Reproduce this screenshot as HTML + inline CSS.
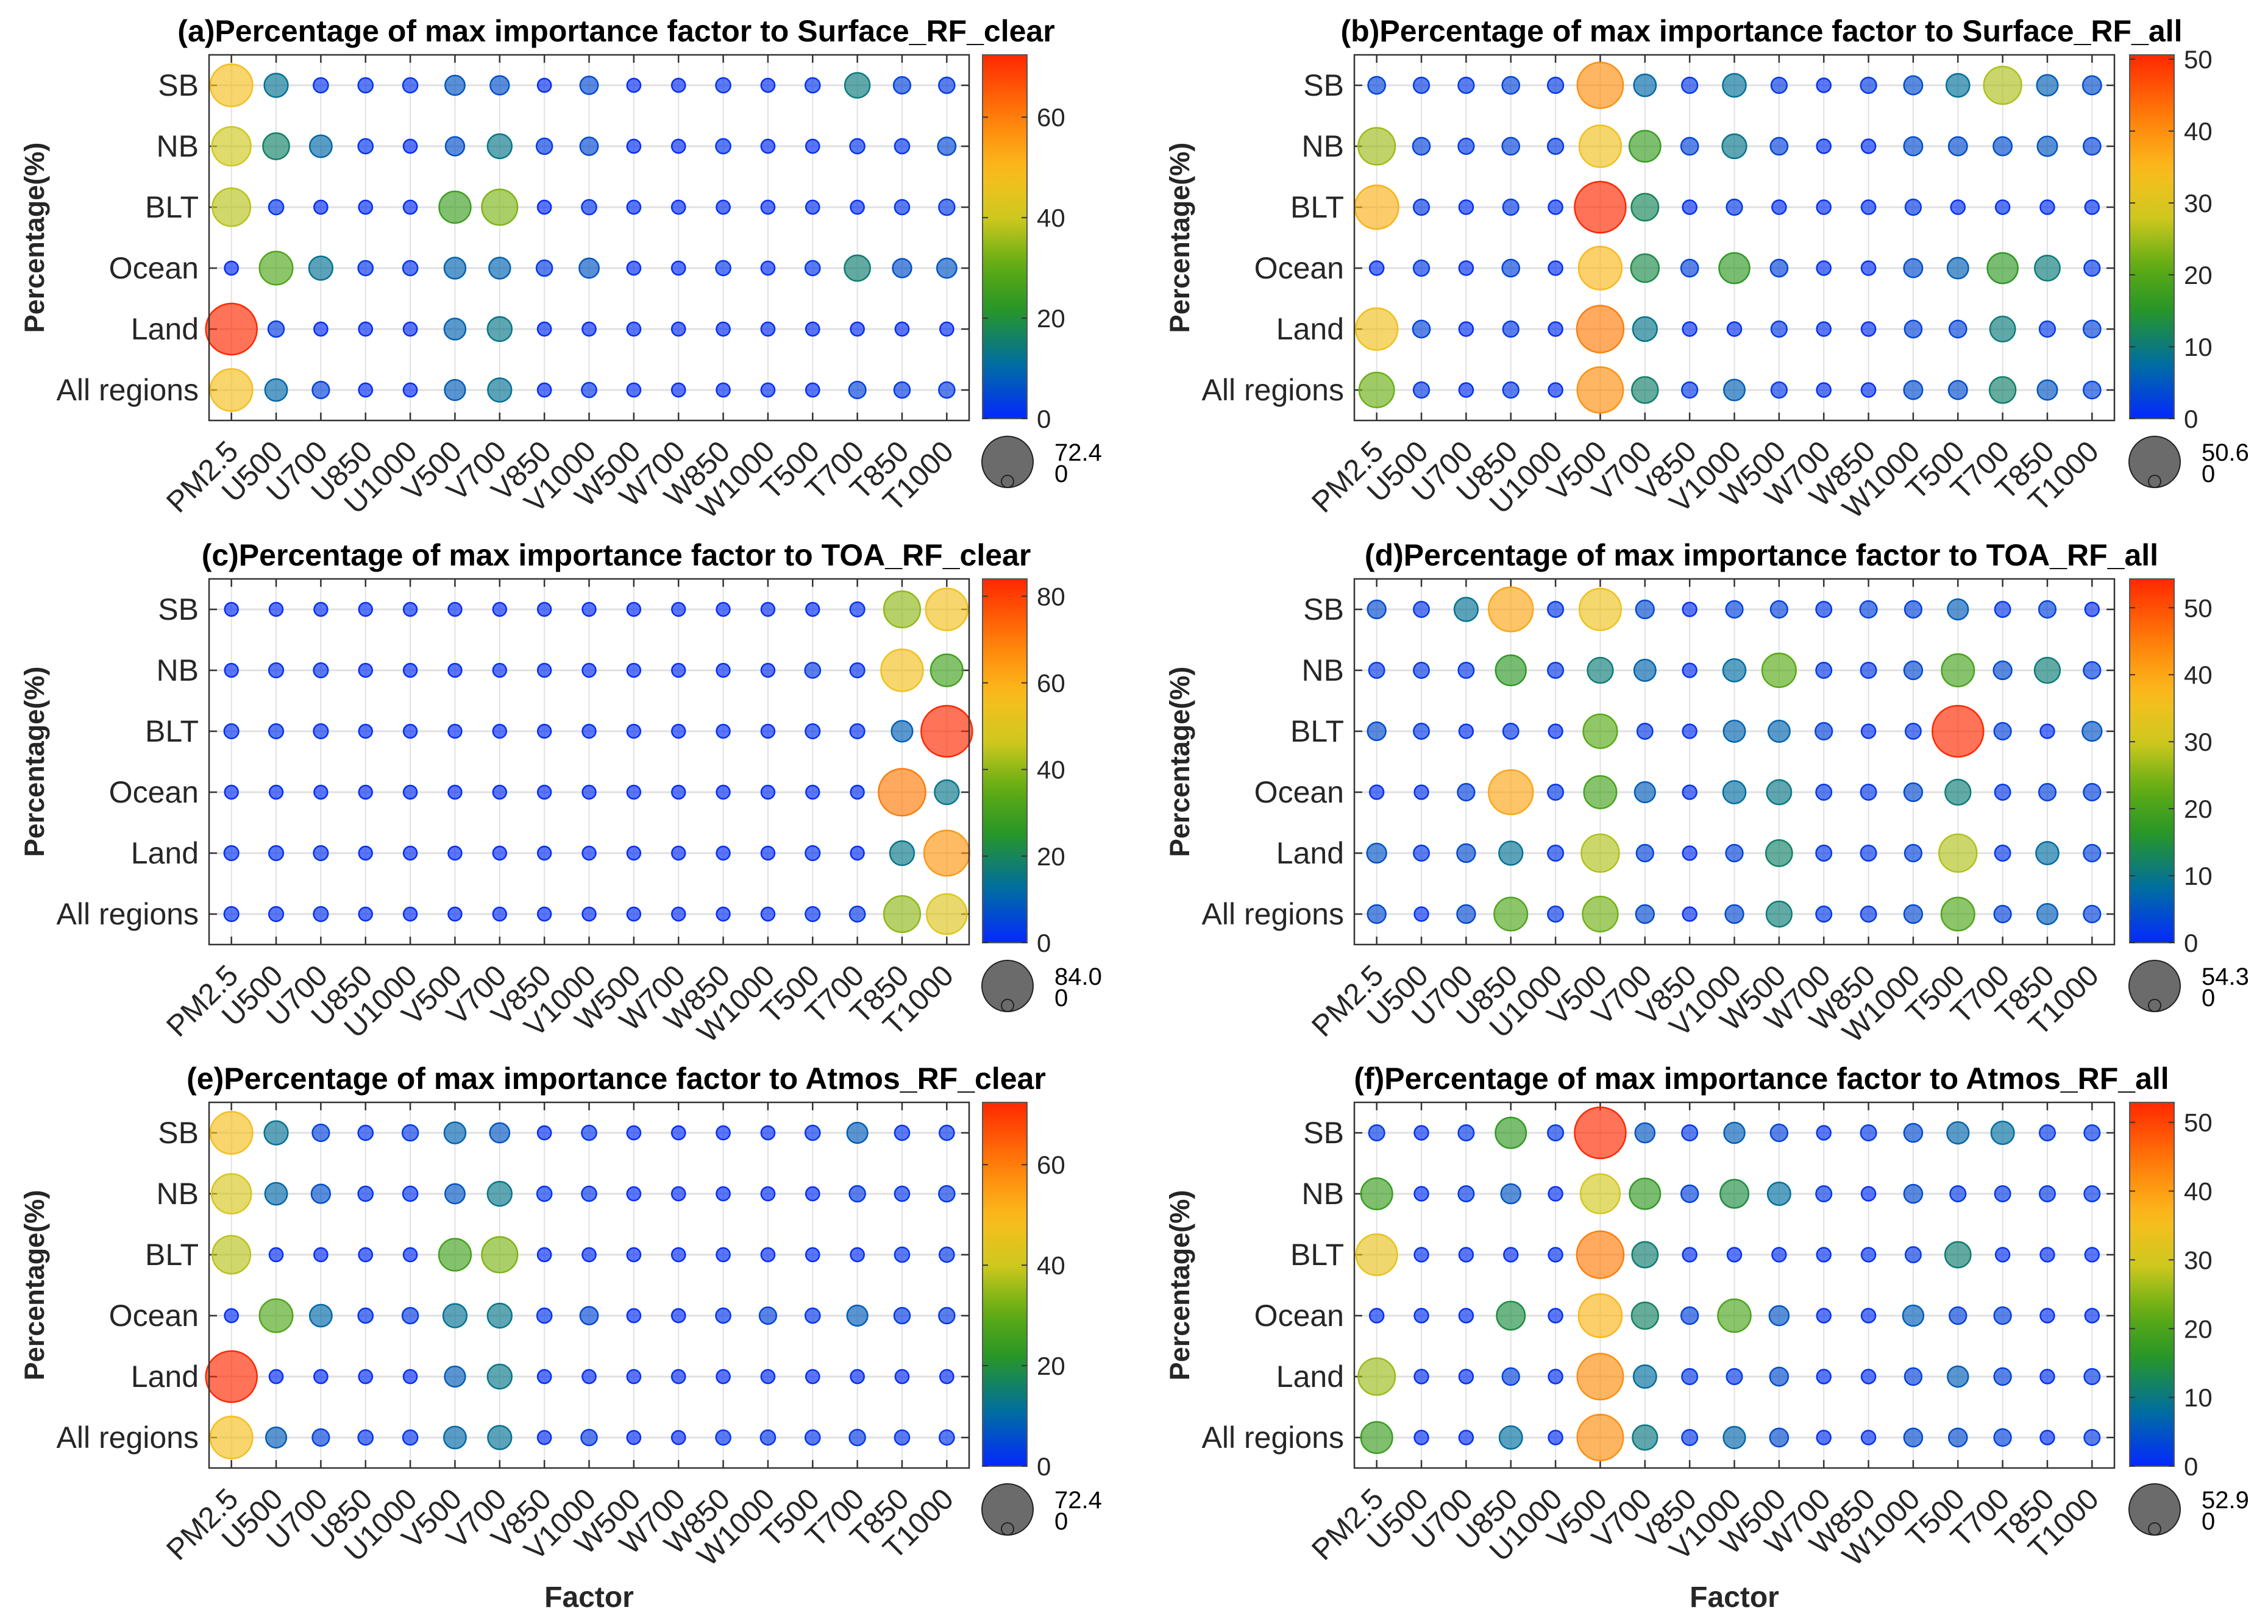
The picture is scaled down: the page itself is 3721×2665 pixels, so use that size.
<!DOCTYPE html>
<html><head><meta charset="utf-8">
<style>
html,body{margin:0;padding:0;background:#fff;}
svg{display:block;font-family:"Liberation Sans",Arial,sans-serif;}
</style></head>
<body>
<svg id="fig" width="3721" height="2665" viewBox="0 0 3721 2665" xmlns="http://www.w3.org/2000/svg"></svg>
<script>
// ---- data ----
const factors = ["PM2.5","U500","U700","U850","U1000","V500","V700","V850","V1000","W500","W700","W850","W1000","T500","T700","T850","T1000"];
const regions = ["SB","NB","BLT","Ocean","Land","All regions"];
const titles = [
 "(a)Percentage of max importance factor to Surface_RF_clear",
 "(b)Percentage of max importance factor to Surface_RF_all",
 "(c)Percentage of max importance factor to TOA_RF_clear",
 "(d)Percentage of max importance factor to TOA_RF_all",
 "(e)Percentage of max importance factor to Atmos_RF_clear",
 "(f)Percentage of max importance factor to Atmos_RF_all"
];
const maxValues = [72.4, 50.6, 84.0, 54.3, 72.4, 52.9];
const maxLabels = ["72.4","50.6","84.0","54.3","72.4","52.9"];
const cbarTicksA = [0,20,40,60];
const cbarTicksB = [0,10,20,30,40,50];
const cbarTicksC = [0,20,40,60,80];
const cbarTicksD = [0,10,20,30,40,50];
const cbarTicksE = [0,20,40,60];
const cbarTicksF = [0,10,20,30,40,50];
const valuesA = [
 [48,12,2,2,2,7,6,1,5,1,1,2,1,2,14,4,3],
 [40,16,10,2,1,6,13,3,5,1,1,2,1,1,2,2,5],
 [38,2,1,1,1,25,33,1,2,1,1,1,1,1,1,2,3],
 [1,28,12,2,2,9,9,3,7,1,1,2,1,2,15,6,7],
 [72.4,3,1,1,1,9,13,1,1,1,1,1,1,1,1,1,1],
 [48,10,4,1,1,8,12,1,2,1,1,1,1,1,4,3,3]
];
const valuesB = [
 [3,2,2,3,2,40,7,2,8,2,1,2,4,8,26,6,4],
 [25,3,2,3,2,33,17,3,9,3,1,1,4,4,4,5,3],
 [36,2,1,2,1,50.6,12,1,2,1,1,1,2,1,1,1,1],
 [1,2,1,3,1,35,13,3,16,3,1,1,4,6,16,10,2],
 [33,3,1,2,1,42,9,1,1,2,1,1,3,3,10,2,3],
 [22,2,1,2,1,40,11,2,6,2,1,1,4,4,11,5,3]
];
const valuesC = [
 [1,1,1,1,1,1,1,1,1,1,1,1,1,1,2,40,55],
 [1,2,2,1,1,1,1,1,1,1,1,1,1,3,2,55,30],
 [2,2,2,1,1,1,1,1,1,1,1,1,1,2,2,10,84],
 [1,1,1,1,1,1,1,1,1,1,1,1,1,1,1,70,15],
 [2,2,2,1,1,1,1,1,1,1,1,1,1,2,1,15,65],
 [2,2,2,1,1,1,1,1,1,1,1,1,1,2,3,40,50]
];
const valuesD = [
 [4,2,9,40,2,35,4,1,3,3,2,3,3,6,2,3,1],
 [2,2,2,17,2,11,7,1,8,22,2,2,4,20,4,11,3],
 [4,2,1,2,1,22,2,1,7,7,3,1,2,54.3,3,1,5],
 [1,1,3,40,2,20,6,1,8,10,2,2,4,11,2,3,3],
 [5,2,4,9,2,28,3,1,3,12,2,2,3,28,2,8,3],
 [4,1,4,21,2,24,4,1,4,11,2,2,4,21,3,6,3]
];
const valuesE = [
 [48,12,4,2,3,9,7,1,2,1,1,1,1,2,8,2,2],
 [42,10,6,2,2,7,13,2,2,1,1,1,1,1,3,2,3],
 [38,1,1,1,1,26,33,1,1,1,1,1,1,1,1,2,2],
 [1,28,10,2,3,12,13,2,5,1,1,2,4,2,8,3,3],
 [72.4,1,1,1,1,8,13,1,1,1,1,1,1,1,1,1,1],
 [48,8,4,2,2,10,12,1,3,1,1,2,2,2,3,2,2]
];
const valuesF = [
 [2,1,2,17,2,52.9,5,2,6,3,1,2,4,7,8,2,2],
 [18,1,2,5,1,30,17,3,14,8,2,1,4,2,2,2,2],
 [33,1,1,1,1,44,11,1,1,1,1,1,2,11,1,1,1],
 [1,1,1,14,1,37,12,3,20,5,1,1,6,3,3,1,1],
 [26,1,1,3,1,42,8,2,2,4,1,1,3,6,3,1,2],
 [18,1,1,8,1,42,10,2,7,4,1,1,4,4,3,1,2]
];
const allValues = [valuesA,valuesB,valuesC,valuesD,valuesE,valuesF];
const allTicks = [cbarTicksA,cbarTicksB,cbarTicksC,cbarTicksD,cbarTicksE,cbarTicksF];

// ---- layout ----
const NS = "http://www.w3.org/2000/svg";
const svg = document.getElementById("fig");
const colL = [343, 2222], cbX = [1612, 3494], rowT = [90, 950, 1809];
const AW = 1247, AH = 600, CBW = 73, RMIN = 10, RMAX = 42;
const stops = [[0,[5,40,255]],[0.15,[0,110,160]],[0.3,[40,150,40]],[0.42,[95,172,20]],[0.55,[205,200,30]],[0.68,[250,190,30]],[0.82,[255,130,10]],[1,[255,40,0]]];
function cmap(f){
  f=Math.max(0,Math.min(1,f));
  for(let i=1;i<stops.length;i++){
    if(f<=stops[i][0]){const a=stops[i-1],b=stops[i];const t=(f-a[0])/(b[0]-a[0]);
      return "rgb("+a[1].map((c,k)=>Math.round(c+(b[1][k]-c)*t)).join(",")+")";}
  }
  return "rgb(255,40,0)";
}
function el(tag, attrs, parent){const e=document.createElementNS(NS,tag);for(const k in attrs)e.setAttribute(k,attrs[k]);(parent||svg).appendChild(e);return e;}

const defs = el("defs",{});
const grad = el("linearGradient",{id:"cgrad",x1:"0",y1:"1",x2:"0",y2:"0"},defs);
for(let i=0;i<=20;i++){el("stop",{offset:(i/20),"stop-color":cmap(i/20)},grad);}

for(let p=0;p<6;p++){
  const col=p%2, row=Math.floor(p/2);
  const L=colL[col], T=rowT[row], M=maxValues[p], vals=allValues[p];
  const xs = i => L + AW*(i+0.5)/factors.length;
  const ys = j => T + AH*(j+0.5)/regions.length;
  const rs = v => Math.sqrt(RMIN*RMIN + (RMAX*RMAX-RMIN*RMIN)*v/M);
  const g = el("g",{});
  
  
  const tt = el("text",{x:L+668,y:T-22,"text-anchor":"middle","font-size":50,"font-weight":"bold",fill:"#000"},g);
  tt.textContent = titles[p];
  
  
  for(let i=0;i<factors.length;i++){
    el("line",{x1:xs(i),x2:xs(i),y1:T,y2:T+AH,stroke:"#e2e2e2","stroke-width":2},g);
  }
  for(let j=0;j<regions.length;j++){
    el("line",{x1:L,x2:L+AW,y1:ys(j),y2:ys(j),stroke:"#e0e0e0","stroke-width":3},g);
  }
  for(let i=0;i<factors.length;i++){
    el("line",{x1:xs(i),x2:xs(i),y1:T+AH,y2:T+AH-13,stroke:"#333","stroke-width":2.5},g);
    el("line",{x1:xs(i),x2:xs(i),y1:T,y2:T+13,stroke:"#333","stroke-width":2.5},g);
    const lx=xs(i)+14, ly=T+AH+54;
    const tl = el("text",{x:lx,y:ly,"text-anchor":"end","font-size":49,fill:"#262626",transform:"rotate(-45 "+lx+" "+ly+")"},g);
    tl.textContent = factors[i];
    
    
  }
  for(let j=0;j<regions.length;j++){
    el("line",{x1:L,x2:L+13,y1:ys(j),y2:ys(j),stroke:"#333","stroke-width":2.5},g);
    el("line",{x1:L+AW,x2:L+AW-13,y1:ys(j),y2:ys(j),stroke:"#333","stroke-width":2.5},g);
    const yl = el("text",{x:L-17,y:ys(j)+17,"text-anchor":"end","font-size":50,fill:"#262626"},g);
    yl.textContent = regions[j];
    
    
  }
  for(let j=0;j<regions.length;j++){
    for(let i=0;i<factors.length;i++){
      const v=vals[j][i], c=cmap(v/M);
      const b = el("circle",{cx:xs(i),cy:ys(j),r:rs(v),fill:c,"fill-opacity":0.65,stroke:c,"stroke-width":2.5},g);
      
      
    }
  }
  const box = el("rect",{x:L,y:T,width:AW,height:AH,fill:"none",stroke:"#333","stroke-width":2.5},g);
  
  
  const ylx=L-271, yly=T+AH/2;
  const yt = el("text",{x:ylx,y:yly,"text-anchor":"middle","font-size":45,"font-weight":"bold",fill:"#262626",transform:"rotate(-90 "+ylx+" "+yly+")"},g);
  yt.textContent = "Percentage(%)";
  
  
  const CX=cbX[col];
  const cb = el("rect",{x:CX,y:T,width:CBW,height:AH-3,fill:"url(#cgrad)",stroke:"#555","stroke-width":2},g);
  
  
  const ticks=allTicks[p];
  for(const tv of ticks){
    const ty = T+AH-3 - (AH-3)*tv/M;
    el("line",{x1:CX+CBW,x2:CX+CBW-9,y1:ty,y2:ty,stroke:"#333","stroke-width":2},g);
    el("line",{x1:CX,x2:CX+9,y1:ty,y2:ty,stroke:"#333","stroke-width":2},g);
    const ct = el("text",{x:CX+CBW+16,y:ty+15,"font-size":42,fill:"#262626"},g);
    ct.textContent = String(tv);
    
    
  }
  const lcx=CX+41, lcy=T+AH+68;
  const big = el("circle",{cx:lcx,cy:lcy,r:RMAX,fill:"#6b6b6b",stroke:"#222","stroke-width":2},g);
  
  
  const small = el("circle",{cx:lcx,cy:lcy+RMAX-RMIN,r:RMIN,fill:"none",stroke:"#222","stroke-width":2},g);
  
  
  const lt1 = el("text",{x:CX+118,y:lcy-2,"font-size":40,fill:"#000"},g);
  lt1.textContent = maxLabels[p];
  
  
  const lt2 = el("text",{x:CX+118,y:lcy+33,"font-size":40,fill:"#000"},g);
  lt2.textContent = "0";
  
  
  if(row===2){
    const xt = el("text",{x:L+AW/2,y:2637,"text-anchor":"middle","font-size":48,"font-weight":"bold",fill:"#262626"},g);
    xt.textContent = "Factor";
    
    
  }
}
</script>
</body></html>
